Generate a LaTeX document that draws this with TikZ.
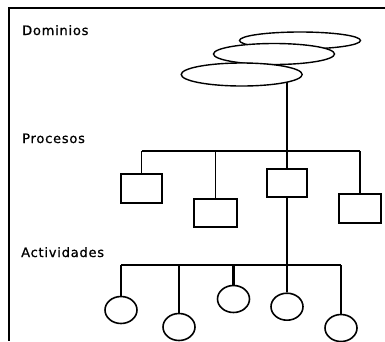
\documentclass[tikz,border=0pt]{standalone}
\usepackage{fontspec}
\newfontfamily\labelfont[LetterSpace=6,FakeBold=0.8]{DejaVu Sans}
\usetikzlibrary{shapes.geometric}

\begin{document}
\begin{tikzpicture}[x=1pt,y=-1pt,
  lvltitle/.style={anchor=base west,inner sep=0pt,font=\labelfont\fontsize{13}{15}\selectfont},
  domshape/.style={ellipse,draw,fill=white,line width=1.4pt,minimum width=121pt,inner sep=0pt},
  procbox/.style={rectangle,draw,fill=white,line width=1.8pt,minimum width=41pt,minimum height=29pt,inner sep=0pt},
  actnode/.style={ellipse,draw,fill=white,line width=1.6pt,minimum width=32pt,minimum height=27pt,inner sep=0pt},
  framelines/.style={line width=2pt},
  busline/.style={line width=2.1pt},
  dropline/.style={line width=1.5pt},
  trunkline/.style={line width=2.5pt}]
  \useasboundingbox (0,0) rectangle (385,341);

  % open frame: top and left edges
  \draw[framelines] (385,8) -- (9,8) -- (9,341);

  % level titles
  \node[lvltitle] (tdom) at (22,35) {Dominios};
  \node[lvltitle] (tproc) at (22,143) {Procesos};
  \node[lvltitle] (tact) at (21,257) {Actividades};

  % stacked domains
  \node[domshape,minimum height=17pt] (d1) at (300,40.5) {};
  \node[domshape,minimum height=21pt] (d2) at (274,54) {};
  \node[domshape,minimum height=23pt] (d3) at (241.7,74.5) {};

  % processes
  \node[procbox] (p1) at (141.5,188.5) {};
  \node[procbox,minimum width=43pt,minimum height=28pt] (p2) at (215.5,213) {};
  \node[procbox,minimum width=40pt,minimum height=28pt] (p3) at (287,183) {};
  \node[procbox,minimum width=42pt] (p4) at (360,208.5) {};

  % activities
  \node[actnode] (a1) at (121,310) {};
  \node[actnode] (a2) at (179,327) {};
  \node[actnode] (a3) at (233.5,299) {};
  \node[actnode] (a4) at (287,306.7) {};
  \node[actnode] (a5) at (341,328) {};

  \coordinate (pbus) at (0,151);
  \coordinate (abus) at (0,265);

  % domain to process bus
  \draw[trunkline] (p3.north |- d3.-9.4) -- (p3.north);
  \draw[busline] (p1.north |- pbus) -- (p4.north |- pbus);
  \draw[dropline] (p1.north |- pbus) -- (p1.north);
  \draw[dropline] (p2.north |- pbus) -- (p2.north);
  \draw[dropline] (p4.north |- pbus) -- (p4.north);

  % process to activity bus
  \draw[trunkline] (p3.south) -- (a4.north);
  \draw[busline] (a1.north |- abus) -- (a5.north |- abus);
  \draw[dropline] (a1.north |- abus) -- (a1.north);
  \draw[dropline] (a2.north |- abus) -- (a2.north);
  \draw[trunkline] (a3.north |- abus) -- (a3.north);
  \draw[trunkline] (a5.north |- abus) -- (a5.north);
\end{tikzpicture}
\end{document}
